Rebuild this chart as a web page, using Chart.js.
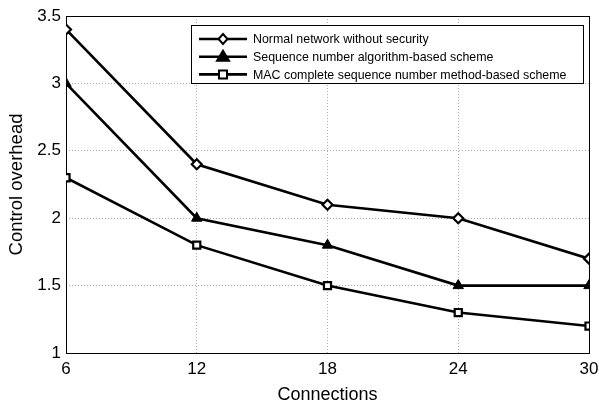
<!DOCTYPE html>
<html>
<head>
<meta charset="utf-8">
<script src="https://cdn.jsdelivr.net/npm/chart.js@4/dist/chart.umd.min.js"></script>
<style>
  html, body { margin: 0; padding: 0; background: #fff; }
  #wrap { width: 599px; height: 402px; position: relative; }
</style>
</head>
<body>
<div id="wrap"><canvas id="myChart"></canvas></div>
<script>
const connections = [6, 12, 18, 24, 30];
const normalNet = [3.4, 2.4, 2.1, 2.0, 1.7];
const seqScheme = [3.0, 2.0, 1.8, 1.5, 1.5];
const macScheme = [2.3, 1.8, 1.5, 1.3, 1.2];
const seriesNames = [
    'Normal network without security',
    'Sequence number algorithm-based scheme',
    'MAC complete sequence number method-based scheme'
];

function pts(vals) {
    return vals.map(function (v, i) { return { x: connections[i], y: v }; });
}

const font = 'Liberation Sans, Arial, sans-serif';

let series = [
    {
        label: seriesNames[0],
        data: pts(normalNet),
        borderColor: '#000',
        borderWidth: 2.6,
        pointStyle: 'rectRot',
        pointRadius: 5,
        pointBorderWidth: 2.2,
        pointBackgroundColor: '#fff',
        pointBorderColor: '#000'
    },
    {
        label: seriesNames[1],
        data: pts(seqScheme),
        borderColor: '#000',
        borderWidth: 2.6,
        pointStyle: 'triangle',
        pointRadius: 6,
        pointBorderWidth: 1,
        pointBackgroundColor: '#000',
        pointBorderColor: '#000'
    },
    {
        label: seriesNames[2],
        data: pts(macScheme),
        borderColor: '#000',
        borderWidth: 2.6,
        pointStyle: 'rect',
        pointRadius: 5,
        pointBorderWidth: 2.2,
        pointBackgroundColor: '#fff',
        pointBorderColor: '#000'
    }
];

// legend box inside the plot, drawn from the dataset labels
const boxLegend = {
    id: 'boxLegend',
    afterDatasetsDraw(chart) {
        const c = chart.ctx;
        const x0 = 191, y0 = 25, w = 392, h = 58;
        c.save();
        c.fillStyle = '#fff';
        c.fillRect(x0, y0, w, h);
        c.strokeStyle = '#000';
        c.lineWidth = 1;
        c.strokeRect(x0 + 0.5, y0 + 0.5, w, h);
        c.font = '12.4px ' + font;
        c.textBaseline = 'middle';
        chart.data.datasets.forEach(function (ds, i) {
            const y = y0 + 14 + i * 17.7;
            c.strokeStyle = '#000';
            c.lineWidth = 2.6;
            c.beginPath();
            c.moveTo(x0 + 8, y);
            c.lineTo(x0 + 56, y);
            c.stroke();
            c.lineWidth = 2;
            c.fillStyle = ds.pointBackgroundColor;
            const cx = x0 + 32;
            c.beginPath();
            if (ds.pointStyle === 'rectRot') {
                c.moveTo(cx, y - 5); c.lineTo(cx + 4.5, y); c.lineTo(cx, y + 5); c.lineTo(cx - 4.5, y); c.closePath();
            } else if (ds.pointStyle === 'triangle') {
                c.moveTo(cx, y - 6); c.lineTo(cx + 6, y + 4); c.lineTo(cx - 6, y + 4); c.closePath();
            } else {
                c.rect(cx - 4, y - 4, 8, 8);
            }
            c.fill();
            c.stroke();
            c.fillStyle = '#000';
            c.fillText(ds.label, x0 + 62, y + 1);
        });
        c.restore();
    }
};

// full frame around the plot area
const frame = {
    id: 'frame',
    beforeDatasetsDraw(chart) {
        const a = chart.chartArea;
        const c = chart.ctx;
        c.save();
        c.strokeStyle = '#000';
        c.lineWidth = 1;
        c.strokeRect(a.left + 0.5, a.top + 0.5, a.right - a.left, a.bottom - a.top);
        c.restore();
    }
};

const myChart = new Chart(document.getElementById('myChart'), {
    type: 'line',
    data: { datasets: series },
    plugins: [frame, boxLegend],
    options: {
        responsive: true,
        maintainAspectRatio: false,
        animation: false,
        layout: { padding: { top: 16, right: 10, left: 0, bottom: 0 } },
        plugins: {
            legend: { display: false },
            tooltip: { enabled: false }
        },
        scales: {
            x: {
                type: 'linear',
                min: 6,
                max: 30,
                ticks: { stepSize: 6, color: '#000', font: { family: font, size: 17 }, padding: 6 },
                grid: { color: '#aaa', drawTicks: false },
                border: { display: false, dash: [1, 2] },
                title: { display: true, text: 'Connections', color: '#000', font: { family: font, size: 18 }, padding: { top: 2, bottom: -4 } },
                afterFit: function (s) { s.height = 49; s.paddingLeft = 0; s.paddingRight = 0; }
            },
            y: {
                min: 1,
                max: 3.5,
                ticks: {
                    stepSize: 0.5, color: '#000', font: { family: font, size: 17 }, padding: 5,
                    callback: function (v) { return String(v); }
                },
                grid: { color: '#aaa', drawTicks: false },
                border: { display: false, dash: [1, 2] },
                title: { display: true, text: 'Control overhead', color: '#000', font: { family: font, size: 18.5 }, padding: { top: 6, bottom: 0 } },
                afterFit: function (s) { s.width = 66; s.paddingTop = 0; s.paddingBottom = 0; }
            }
        }
    }
});
</script>
</body>
</html>
